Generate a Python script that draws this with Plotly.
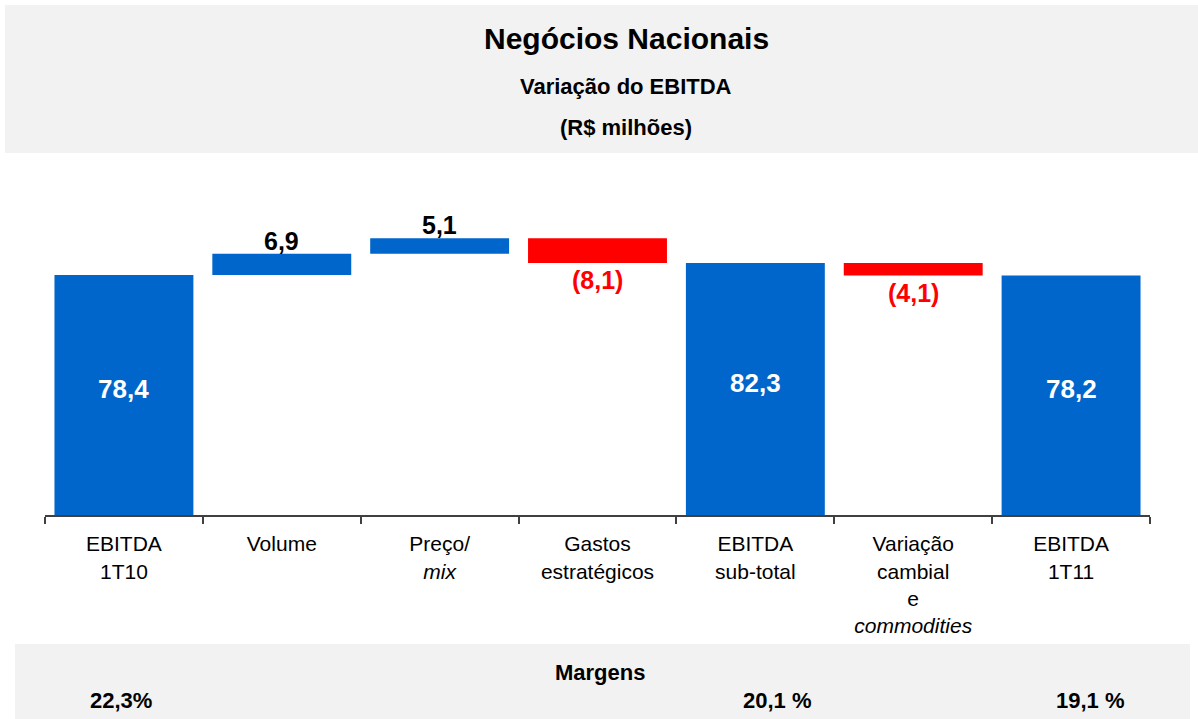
import plotly.graph_objects as go

categories = ["EBITDA<br>1T10", "Volume", "Preço/<br><i>mix</i>", "Gastos<br>estratégicos",
              "EBITDA<br>sub-total", "Variação<br>cambial<br>e<br><i>commodities</i>", "EBITDA<br>1T11"]
values = [78.4, 6.9, 5.1, -8.1, 82.3, -4.1, 78.2]
measures = ["total", "delta", "delta", "delta", "total", "delta", "total"]
margin_cats = [0, 4, 6]
margin_labels = ["22,3%", "20,1 %", "19,1 %"]

BLUE = "#0066CC"
RED = "#FF0000"
FONT = "Liberation Sans, Arial, sans-serif"

W, H = 1198, 719
L, R, T, B = 45, 48, 180, 204
PW, PH = W - L - R, H - T - B

def px_x(px):
    return (px - L) / PW

def px_y(py):
    return (H - B - py) / PH

bases, heights, colors = [], [], []
running = 0.0
for v, m in zip(values, measures):
    if m == "total":
        bases.append(0)
        heights.append(v)
        colors.append(BLUE)
        running = v
    else:
        if v >= 0:
            bases.append(running)
            heights.append(v)
            colors.append(BLUE)
        else:
            bases.append(running + v)
            heights.append(-v)
            colors.append(RED)
        running += v

fig = go.Figure()
fig.add_trace(go.Bar(x=categories, y=heights, base=bases,
                     marker=dict(color=colors, line=dict(width=0)),
                     width=0.88, hoverinfo="skip"))

def fmt(v):
    s = f"{abs(v):.1f}".replace(".", ",")
    return f"({s})" if v < 0 else s

annotations = []
for cat, v, m, b, h in zip(categories, values, measures, bases, heights):
    if m == "total":
        annotations.append(dict(x=cat, y=v / 2 + 2, text=f"<b>{fmt(v)}</b>", showarrow=False,
                                yanchor="middle",
                                font=dict(color="white", size=26, family=FONT)))
    elif v >= 0:
        annotations.append(dict(x=cat, y=b + h, text=f"<b>{fmt(v)}</b>", showarrow=False,
                                yanchor="bottom", yshift=-3,
                                font=dict(color="black", size=25, family=FONT)))
    else:
        annotations.append(dict(x=cat, y=b, text=f"<b>{fmt(v)}</b>", showarrow=False,
                                yanchor="top", yshift=-1,
                                font=dict(color=RED, size=25, family=FONT)))

title_lines = [("<b>Negócios Nacionais</b>", 38, 30),
               ("<b>Variação do EBITDA</b>", 86, 22),
               ("<b>(R$ milhões)</b>", 128, 22),
               ("<b>Margens</b>", 672, 22)]
for txt, py, sz in title_lines:
    annotations.append(dict(xref="paper", yref="paper", x=px_x(626 if py < 200 else 600), y=px_y(py),
                            xanchor="center", yanchor="middle", text=txt, showarrow=False,
                            font=dict(size=sz, family=FONT, color="black")))

margin_xshift = [-3, 22, 19]
for c, t, sh in zip(margin_cats, margin_labels, margin_xshift):
    annotations.append(dict(x=categories[c], xshift=sh, yref="paper", y=px_y(700),
                            xanchor="center", yanchor="middle", text=f"<b>{t}</b>",
                            showarrow=False, font=dict(size=22, family=FONT, color="black")))

shapes = [
    dict(type="rect", xref="paper", yref="paper", x0=px_x(5), x1=px_x(1198), y0=px_y(153), y1=px_y(5),
         fillcolor="#F2F2F2", line=dict(width=0), layer="below"),
    dict(type="rect", xref="paper", yref="paper", x0=px_x(15), x1=px_x(1190), y0=px_y(719), y1=px_y(644),
         fillcolor="#F2F2F2", line=dict(width=0), layer="below"),
]

fig.update_layout(
    width=W, height=H, autosize=False,
    margin=dict(l=L, r=R, t=T, b=B, pad=0),
    paper_bgcolor="white", plot_bgcolor="white",
    showlegend=False,
    annotations=annotations, shapes=shapes,
    font=dict(family=FONT, color="black"),
    xaxis=dict(type="category", tickson="boundaries",
               showline=True, linecolor="#404040", linewidth=2, ticks="outside", ticklen=7,
               tickwidth=2, tickcolor="#404040", showgrid=False, zeroline=False,
               ticklabelstandoff=9,
               tickfont=dict(size=21, family=FONT, color="black")),
    yaxis=dict(range=[0, 109.4], visible=False, showgrid=False, zeroline=False),
)
fig.write_html("out.html", config={"displayModeBar": False},
               post_script="document.body.style.margin='0';document.body.style.overflow='hidden';")
